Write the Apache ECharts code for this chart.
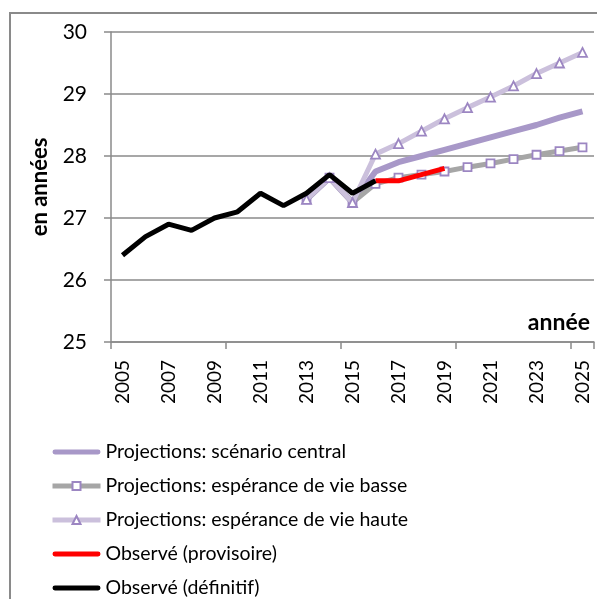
<!DOCTYPE html>
<html>
<head>
<meta charset="utf-8">
<script src="https://cdn.jsdelivr.net/npm/echarts@6/dist/echarts.min.js"></script>
<style>
  html, body { margin: 0; padding: 0; background: #fff; }
  #main { width: 597px; height: 599px; }
</style>
</head>
<body>
<div id="main"></div>
<script>
// années 2005 -> 2025
var years = ['2005', '2006', '2007', '2008', '2009', '2010', '2011', '2012', '2013', '2014', '2015',
  '2016', '2017', '2018', '2019', '2020', '2021', '2022', '2023', '2024', '2025'];

var central = [null, null, null, null, null, null, null, null, 27.3, 27.65, 27.25,
  27.75, 27.9, 28.0, 28.1, 28.2, 28.3, 28.4, 28.5, 28.62, 28.72];
var basse = [null, null, null, null, null, null, null, null, 27.3, 27.65, 27.25,
  27.55, 27.65, 27.7, 27.75, 27.82, 27.88, 27.95, 28.02, 28.08, 28.14];
var haute = [null, null, null, null, null, null, null, null, 27.3, 27.65, 27.25,
  28.03, 28.2, 28.4, 28.6, 28.78, 28.95, 29.13, 29.33, 29.5, 29.67];
var provisoire = [null, null, null, null, null, null, null, null, null, null, null,
  27.6, 27.6, 27.7, 27.8, null, null, null, null, null, null];
var definitif = [26.4, 26.7, 26.9, 26.8, 27.0, 27.1, 27.4, 27.2, 27.4, 27.7, 27.4,
  27.6, null, null, null, null, null, null, null, null, null];

var names = [
  'Projections: scénario central',
  'Projections: espérance de vie basse',
  'Projections: espérance de vie haute',
  'Observé (provisoire)',
  'Observé (définitif)'
];

var font = 'Lato';
var gridColor = '#8a8a8a';
var barIcon = 'path://M2,0 L46,0 A2,2 0 0 1 46,5 L2,5 A2,2 0 0 1 2,0 Z';

var chart = echarts.init(document.getElementById('main'));

var option = {
  animation: false,
  backgroundColor: '#fff',
  grid: { left: 111, right: 3, top: 32, bottom: 257 },
  graphic: [{
    type: 'rect',
    shape: { x: 10, y: 13, width: 620, height: 620 },
    style: { fill: 'none', stroke: gridColor, lineWidth: 2 },
    silent: true
  }],
  legend: {
    orient: 'vertical',
    left: 50,
    top: 442,
    height: 157,
    padding: 0,
    itemWidth: 48,
    itemHeight: 10,
    itemGap: 14,
    lineStyle: { width: 5 },
    data: [
      { name: names[0], icon: barIcon },
      names[1],
      names[2],
      { name: names[3], icon: barIcon },
      { name: names[4], icon: barIcon }
    ],
    textStyle: { fontFamily: font, fontSize: 19.5, color: '#000' }
  },
  xAxis: {
    type: 'category',
    data: years,
    boundaryGap: true,
    name: 'année',
    nameLocation: 'end',
    nameGap: -4,
    nameTextStyle: {
      fontFamily: font, fontSize: 23, fontWeight: 'bold', color: '#000',
      align: 'right', verticalAlign: 'bottom', padding: [0, 0, 8, 0]
    },
    axisLine: { lineStyle: { color: gridColor, width: 1.5 } },
    axisTick: { show: true, interval: 4, length: 7, inside: false, lineStyle: { color: gridColor, width: 1.5 } },
    axisLabel: {
      interval: 1, rotate: 90, margin: 18,
      fontFamily: font, fontSize: 19, color: '#000'
    }
  },
  yAxis: {
    type: 'value',
    min: 25,
    max: 30,
    interval: 1,
    name: 'en années',
    nameLocation: 'middle',
    nameGap: 60,
    nameRotate: 90,
    nameTextStyle: { fontFamily: font, fontSize: 22, fontWeight: 'bold', color: '#000' },
    axisLine: { show: true, lineStyle: { color: gridColor, width: 1.5 } },
    axisTick: { show: true, length: 7, lineStyle: { color: gridColor, width: 1.5 } },
    axisLabel: { margin: 24, fontFamily: font, fontSize: 21, color: '#000' },
    splitLine: { lineStyle: { color: gridColor, width: 1.5 } }
  },
  series: [
    {
      name: names[0], type: 'line', data: central, symbol: 'none', z: 2,
      lineStyle: { color: '#a898c8', width: 6 }, itemStyle: { color: '#a898c8' }
    },
    {
      name: names[1], type: 'line', data: basse, symbol: 'rect', symbolSize: 8, z: 3,
      lineStyle: { color: '#a6a6a6', width: 5 },
      itemStyle: { color: '#fff', borderColor: '#9c86c2', borderWidth: 1.8 }
    },
    {
      name: names[2], type: 'line', data: haute, symbol: 'triangle', symbolSize: 9, z: 4,
      lineStyle: { color: '#cbc0dc', width: 5 },
      itemStyle: { color: '#fff', borderColor: '#9c86c2', borderWidth: 1.8 }
    },
    {
      name: names[3], type: 'line', data: provisoire, symbol: 'none', z: 5,
      lineStyle: { color: '#ff0000', width: 5 }, itemStyle: { color: '#ff0000' }
    },
    {
      name: names[4], type: 'line', data: definitif, symbol: 'none', z: 6,
      lineStyle: { color: '#000000', width: 5 }, itemStyle: { color: '#000000' }
    }
  ]
};

chart.setOption(option);
</script>
</body>
</html>
